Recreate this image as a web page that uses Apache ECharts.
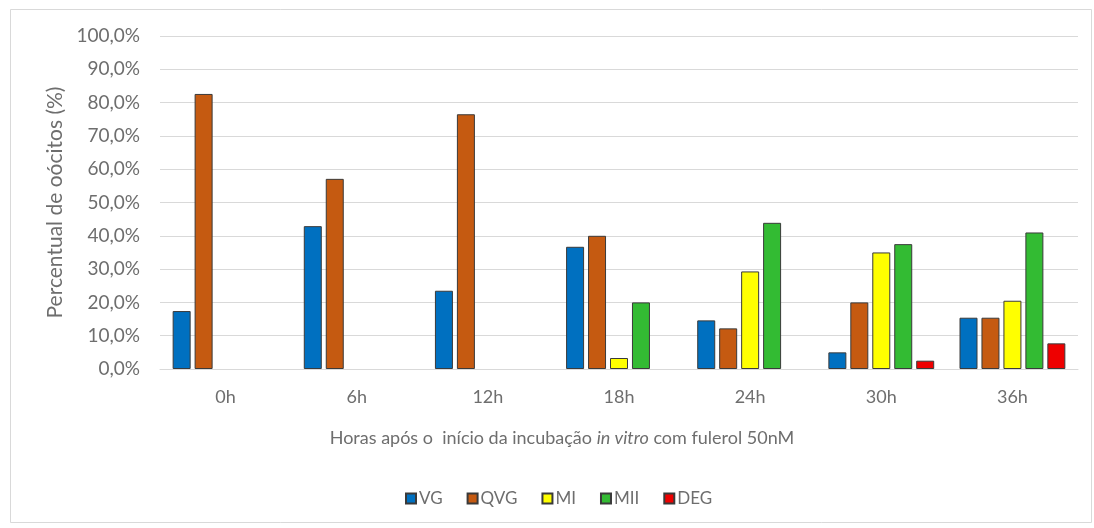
<!DOCTYPE html>
<html>
<head>
<meta charset="utf-8">
<script src="https://cdn.jsdelivr.net/npm/echarts@6/dist/echarts.min.js"></script>
<style>
  html, body { margin: 0; padding: 0; background: #fff; }
  #chart { width: 1094px; height: 528px; }
</style>
</head>
<body>
<div id="chart"></div>
<script>
// Hours after the start of in vitro incubation
const categories = ['0h', '6h', '12h', '18h', '24h', '30h', '36h'];

// Percentage of oocytes in each stage (null = no oocytes in that stage)
const vg  = [17.4, 42.9, 23.5, 36.7, 14.6,  5.0, 15.4];
const qvg = [82.6, 57.1, 76.5, 40.0, 12.2, 20.0, 15.4];
const mi  = [null, null, null,  3.3, 29.3, 35.0, 20.5];
const mii = [null, null, null, 20.0, 43.9, 37.5, 41.0];
const deg = [null, null, null, null, null,  2.5,  7.7];

const seriesNames = ['VG', 'QVG', 'MI', 'MII', 'DEG'];
const seriesData = [vg, qvg, mi, mii, deg];
const seriesColors = ['#0070C0', '#C55A11', '#FFFF00', '#33BB33', '#EE0000'];

const yTicks = { min: 0, max: 100, step: 10 };

const textColor = '#6e6e6e';
const fontFamily = 'Lato, "Open Sans", sans-serif';

const chart = echarts.init(document.getElementById('chart'));

chart.setOption({
  backgroundColor: '#ffffff',
  animation: false,
  textStyle: { fontFamily: fontFamily, color: textColor },
  graphic: [{
    type: 'rect',
    shape: { x: 10.5, y: 9.5, width: 1081, height: 513 },
    style: { fill: 'none', stroke: '#d9d9d9', lineWidth: 1 },
    silent: true
  }],
  grid: { left: 160, right: 16, top: 36, bottom: 159 },
  legend: {
    left: 400,
    top: 485,
    itemWidth: 10,
    itemHeight: 10,
    itemGap: 24,
    icon: 'rect',
    textStyle: { fontSize: 17, color: textColor, fontFamily: fontFamily, padding: [0, 0, 0, -2] },
    data: seriesNames
  },
  xAxis: {
    type: 'category',
    data: categories,
    axisLine: { lineStyle: { color: '#d9d9d9', width: 1 } },
    axisTick: { show: false },
    axisLabel: { color: textColor, fontSize: 18, margin: 19 },
    name: '{n|Horas após o  início da incubação }{i|in vitro}{n| com fulerol 50nM}',
    nameLocation: 'middle',
    nameGap: 60,
    nameTextStyle: {
      padding: [0, 114, 0, 0],
      rich: {
        n: { fontSize: 18, color: textColor, fontFamily: fontFamily },
        i: { fontSize: 18, color: textColor, fontFamily: fontFamily, fontStyle: 'italic' }
      }
    }
  },
  yAxis: {
    type: 'value',
    min: yTicks.min,
    max: yTicks.max,
    interval: yTicks.step,
    axisLine: { show: false },
    axisTick: { show: false },
    splitLine: { lineStyle: { color: '#d9d9d9', width: 1 } },
    axisLabel: {
      color: textColor,
      fontSize: 19,
      margin: 20,
      formatter: v => v.toFixed(1).replace('.', ',') + '%'
    },
    name: 'Percentual de oócitos (%)',
    nameLocation: 'middle',
    nameRotate: 90,
    nameGap: 94,
    nameTextStyle: { fontSize: 21, color: textColor }
  },
  series: seriesNames.map((name, k) => ({
    name: name,
    type: 'bar',
    data: seriesData[k],
    barWidth: 18,
    barGap: '22%',
    itemStyle: {
      color: seriesColors[k],
      borderColor: '#3a3a3a',
      borderWidth: 1
    }
  }))
});
</script>
</body>
</html>
